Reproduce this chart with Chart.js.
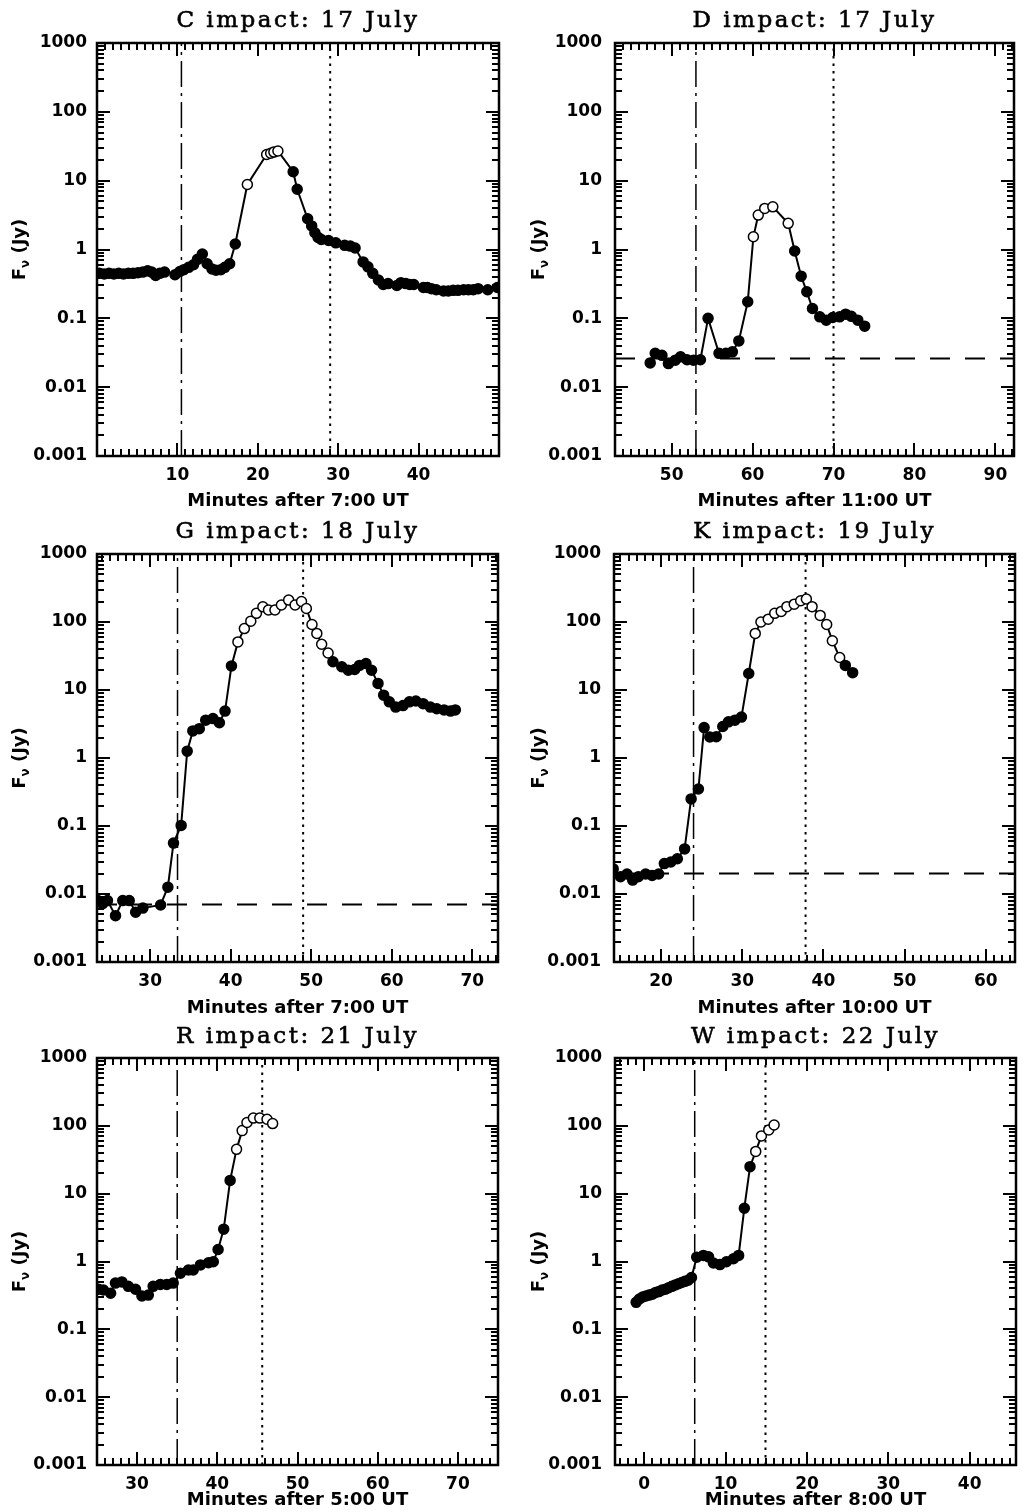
<!DOCTYPE html>
<html>
<head>
<meta charset="utf-8">
<title>Impact light curves</title>
<script src="https://cdn.jsdelivr.net/npm/chart.js@4.4.1/dist/chart.umd.min.js"></script>
<style>
  html, body { margin: 0; padding: 0; background: #fff; }
  body { width: 1023px; height: 1512px; position: relative; overflow: hidden; }
  canvas { position: absolute; }
</style>
</head>
<body>
<canvas id="chartC"></canvas>
<canvas id="chartD"></canvas>
<canvas id="chartG"></canvas>
<canvas id="chartK"></canvas>
<canvas id="chartR"></canvas>
<canvas id="chartW"></canvas>
<script>
// Flux axis (Jy), shared by all panels
const yTicks = [0.001, 0.01, 0.1, 1, 10, 100, 1000];
const yTickLabels = ['0.001', '0.01', '0.1', '1', '10', '100', '1000'];

// C impact, minutes after 7:00 UT
const cTime = [0.3, 0.9, 1.5, 2.1, 2.7, 3.3, 3.9, 4.5, 5.1, 5.7, 6.3, 6.8, 7.3, 7.8, 8.4, 9.7, 10.3, 10.8, 11.4, 12.0,
  12.5, 13.1, 13.7, 14.3, 14.8, 15.4, 15.9, 16.5, 17.2, 18.7, 21.1, 21.6, 22.0, 22.5, 24.4, 24.9, 26.2, 26.7, 27.1, 27.5,
  27.9, 28.8, 29.7, 30.8, 31.5, 32.1, 33.1, 33.7, 34.3, 35.0, 35.6, 36.2, 37.3, 37.8, 38.4, 38.9, 39.4, 40.6, 41.1, 41.6,
  42.2, 43.1, 43.7, 44.3, 44.9, 45.6, 46.2, 46.8, 47.4, 48.6, 49.8];
const cFlux = [0.45, 0.44, 0.45, 0.44, 0.45, 0.44, 0.45, 0.45, 0.46, 0.47, 0.49, 0.47, 0.42, 0.45, 0.47, 0.43, 0.48, 0.51, 0.55, 0.60,
  0.72, 0.86, 0.62, 0.52, 0.50, 0.51, 0.55, 0.62, 1.2, 8.8, 24, 25, 26, 27, 13.5, 7.5, 2.8, 2.2, 1.75, 1.5,
  1.4, 1.35, 1.25, 1.15, 1.12, 1.05, 0.66, 0.56, 0.45, 0.36, 0.31, 0.32, 0.30, 0.33, 0.32, 0.31, 0.31, 0.28, 0.28, 0.27,
  0.26, 0.25, 0.25, 0.255, 0.255, 0.26, 0.26, 0.26, 0.27, 0.26, 0.28];
const cOpen = [18.7, 21.1, 21.6, 22.0, 22.5];
const cMarks = [10.5, 29];
const cXTicks = [10, 20, 30, 40];

// D impact, minutes after 11:00 UT
const dTime = [47.35, 47.97, 48.8, 49.6, 50.45, 51.1, 51.9, 52.7, 53.55, 54.5, 55.85, 56.7, 57.5, 58.3, 59.4, 60.1,
  60.7, 61.5, 62.5, 64.4, 65.2, 66.0, 66.7, 67.4, 68.3, 69.1, 69.9, 70.75, 71.5, 72.2, 73.0, 73.85];
const dFlux = [0.0225, 0.031, 0.029, 0.022, 0.0247, 0.0276, 0.025, 0.0247, 0.025, 0.1, 0.031, 0.031, 0.0326, 0.047, 0.174, 1.53,
  3.16, 3.95, 4.17, 2.4, 0.95, 0.41, 0.243, 0.139, 0.105, 0.094, 0.103, 0.105, 0.115, 0.107, 0.094, 0.077];
const dOpen = [60.1, 60.7, 61.5, 62.5, 64.4];
const dMarks = [53, 70];
const dBase = 0.026;
const dXTicks = [50, 60, 70, 80, 90];

// G impact, minutes after 7:00 UT
const gTime = [23.5, 24.1, 24.7, 25.7, 26.6, 27.4, 28.2, 29.1, 31.3, 32.2, 32.9, 33.85, 34.6, 35.3, 36.1, 36.9, 37.8, 38.6,
  39.3, 40.1, 40.9, 41.7, 42.5, 43.2, 44.0, 44.7, 45.5, 46.3, 47.2, 48.0, 48.8, 49.4, 50.1, 50.7, 51.3, 52.1, 52.7, 53.8,
  54.6, 55.4, 56.0, 56.8, 57.5, 58.3, 59.0, 59.7, 60.5, 61.4, 62.2, 63.0, 63.9, 64.8, 65.6, 66.5, 67.3, 67.9];
const gFlux = [0.008, 0.0072, 0.008, 0.0048, 0.008, 0.008, 0.0054, 0.0062, 0.0069, 0.0126, 0.056, 0.102, 1.26, 2.5, 2.7, 3.6, 3.8, 3.3,
  4.9, 22.6, 51, 80, 103, 134, 167, 150, 150, 178, 210, 178, 200, 158, 92, 68, 47, 35, 26, 22,
  19.5, 20, 23, 24.5, 19.5, 12.5, 8.4, 6.7, 5.6, 5.9, 6.7, 6.9, 6.3, 5.6, 5.3, 5.1, 4.9, 5.1];
const gOpen = [40.9, 41.7, 42.5, 43.2, 44.0, 44.7, 45.5, 46.3, 47.2, 48.0, 48.8, 49.4, 50.1, 50.7, 51.3, 52.1];
const gMarks = [33.4, 49];
const gBase = 0.007;
const gXTicks = [30, 40, 50, 60, 70];

// K impact, minutes after 10:00 UT
const kTime = [14.1, 15.0, 15.8, 16.5, 17.2, 18.1, 18.9, 19.7, 20.4, 21.2, 22.0, 22.9, 23.7, 24.6, 25.3, 26.0, 26.8, 27.6,
  28.3, 29.1, 29.9, 30.8, 31.6, 32.3, 33.2, 34.0, 34.8, 35.5, 36.4, 37.2, 37.9, 38.6, 39.6, 40.4, 41.1, 42.0, 42.7, 43.6];
const kFlux = [0.0234, 0.018, 0.0197, 0.016, 0.018, 0.0197, 0.0187, 0.0197, 0.028, 0.0295, 0.033, 0.046, 0.25, 0.35, 2.8, 2.04, 2.06, 2.9,
  3.4, 3.6, 4.0, 17.5, 68, 100, 110, 134, 143, 168, 183, 205, 218, 168, 125, 92, 53, 30, 23, 18];
const kOpen = [31.6, 32.3, 33.2, 34.0, 34.8, 35.5, 36.4, 37.2, 37.9, 38.6, 39.6, 40.4, 41.1, 42.0];
const kMarks = [24, 37.8];
const kBase = 0.02;
const kXTicks = [20, 30, 40, 50, 60];

// R impact, minutes after 5:00 UT
const rTime = [25.2, 25.8, 26.7, 27.3, 28.1, 28.9, 29.8, 30.6, 31.4, 32.0, 32.9, 33.7, 34.5, 35.4, 36.4, 37.0, 37.9, 38.9,
  39.5, 40.1, 40.8, 41.6, 42.4, 43.1, 43.7, 44.5, 45.3, 46.2, 46.9];
const rFlux = [0.39, 0.38, 0.34, 0.48, 0.50, 0.43, 0.39, 0.31, 0.32, 0.43, 0.46, 0.46, 0.48, 0.67, 0.75, 0.75, 0.89, 0.96,
  0.99, 1.5, 3.0, 15.7, 45, 85, 112, 130, 130, 125, 108];
const rOpen = [42.4, 43.1, 43.7, 44.5, 45.3, 46.2, 46.9];
const rMarks = [35, 45.6];
const rXTicks = [30, 40, 50, 60, 70];

// W impact, minutes after 8:00 UT
const wTime = [-1.0, -0.6, -0.2, 0.2, 0.6, 1.0, 1.4, 1.8, 2.2, 2.6, 3.0, 3.4, 3.8, 4.2, 4.6, 5.0, 5.4, 5.8,
  6.45, 7.27, 7.9, 8.5, 9.3, 10.1, 10.96, 11.6, 12.3, 13.0, 13.7, 14.4, 15.3, 15.96];
const wFlux = [0.25, 0.28, 0.30, 0.31, 0.32, 0.33, 0.35, 0.36, 0.38, 0.39, 0.41, 0.43, 0.45, 0.47, 0.49, 0.51, 0.53, 0.58,
  1.16, 1.23, 1.17, 0.95, 0.90, 0.99, 1.1, 1.23, 6.1, 25, 42, 71, 87, 103];
const wOpen = [13.7, 14.4, 15.3, 15.96];
const wMarks = [6.2, 14.9];
const wXTicks = [0, 10, 20, 30, 40];

const panels = [
  { id: 'chartC', title: 'C impact: 17 July', xTitle: 'Minutes after 7:00 UT', time: cTime, flux: cFlux, open: cOpen,
    marks: cMarks, base: null, xTicks: cXTicks, xMin: 0, xMax: 50,
    canvas: [0, 0, 511, 510], box: [97, 43, 499, 456], titleY: 21, xTitleY: 501, yLabelX: 20, tickPad: 10 },
  { id: 'chartD', title: 'D impact: 17 July', xTitle: 'Minutes after 11:00 UT', time: dTime, flux: dFlux, open: dOpen,
    marks: dMarks, base: dBase, xTicks: dXTicks, xMin: 43, xMax: 92.3,
    canvas: [511, 0, 512, 510], box: [615, 43, 1014, 456], titleY: 21, xTitleY: 501, yLabelX: 539, tickPad: 13 },
  { id: 'chartG', title: 'G impact: 18 July', xTitle: 'Minutes after 7:00 UT', time: gTime, flux: gFlux, open: gOpen,
    marks: gMarks, base: gBase, xTicks: gXTicks, xMin: 23.4, xMax: 73.2,
    canvas: [0, 510, 511, 505], box: [97, 554, 498, 962], titleY: 532, xTitleY: 1008, yLabelX: 20, tickPad: 10 },
  { id: 'chartK', title: 'K impact: 19 July', xTitle: 'Minutes after 10:00 UT', time: kTime, flux: kFlux, open: kOpen,
    marks: kMarks, base: kBase, xTicks: kXTicks, xMin: 14.2, xMax: 63.6,
    canvas: [511, 510, 512, 505], box: [614, 554, 1015, 962], titleY: 532, xTitleY: 1008, yLabelX: 539, tickPad: 13 },
  { id: 'chartR', title: 'R impact: 21 July', xTitle: 'Minutes after 5:00 UT', time: rTime, flux: rFlux, open: rOpen,
    marks: rMarks, base: null, xTicks: rXTicks, xMin: 25, xMax: 75,
    canvas: [0, 1015, 511, 497], box: [97, 1058, 498, 1465], titleY: 1037, xTitleY: 1500, yLabelX: 20, tickPad: 10 },
  { id: 'chartW', title: 'W impact: 22 July', xTitle: 'Minutes after 8:00 UT', time: wTime, flux: wFlux, open: wOpen,
    marks: wMarks, base: null, xTicks: wXTicks, xMin: -3.6, xMax: 45.7,
    canvas: [511, 1015, 512, 497], box: [615, 1058, 1016, 1465], titleY: 1037, xTitleY: 1500, yLabelX: 539, tickPad: 13 }
];

const tickFont = { family: 'DejaVu Sans', weight: 'bold', size: 17 };

// frame, inward ticks on all sides, title and axis titles
const panelDecor = {
  id: 'panelDecor',
  afterDraw(chart, args, opts) {
    const ctx = chart.ctx;
    const area = chart.chartArea;
    const xs = chart.scales.x;
    const ys = chart.scales.y;
    ctx.save();
    ctx.setLineDash([]);
    ctx.fillStyle = '#000';
    ctx.strokeStyle = '#000';

    // minute ticks along top and bottom
    for (let m = Math.ceil(xs.min); m <= Math.floor(xs.max); m++) {
      const px = Math.round(xs.getPixelForValue(m));
      const len = m % 10 === 0 ? 13 : 7;
      ctx.fillRect(px - 1, area.bottom - len, 2, len);
      ctx.fillRect(px - 1, area.top, 2, len);
    }
    // decade and sub-decade ticks along left and right
    for (let d = -3; d <= 3; d++) {
      for (let k = 1; k <= 9; k++) {
        const v = k * Math.pow(10, d);
        if (v > 1000.01) break;
        const py = Math.round(ys.getPixelForValue(v));
        const len = k === 1 ? 13 : 7;
        ctx.fillRect(area.left, py - 1, len, 2);
        ctx.fillRect(area.right - len, py - 1, len, 2);
      }
    }

    ctx.lineWidth = 2.5;
    ctx.strokeRect(area.left, area.top, area.right - area.left, area.bottom - area.top);

    const cx = (area.left + area.right) / 2;
    ctx.textAlign = 'center';
    ctx.textBaseline = 'middle';
    ctx.letterSpacing = '2.5px';
    ctx.font = '23px "DejaVu Serif"';
    ctx.lineWidth = 0.6;
    ctx.fillText(opts.title, cx, opts.titleY);
    ctx.strokeText(opts.title, cx, opts.titleY);
    ctx.letterSpacing = '0px';
    ctx.font = 'bold 18px "DejaVu Sans"';
    ctx.fillText(opts.xTitle, cx, opts.xTitleY);

    // rotated flux label with a subscript nu
    ctx.translate(opts.yLabelX, (area.top + area.bottom) / 2);
    ctx.rotate(-Math.PI / 2);
    ctx.textAlign = 'left';
    const big = 'bold 18px "DejaVu Sans"';
    const small = 'bold 12px "DejaVu Sans"';
    ctx.font = big;
    const wF = ctx.measureText('F').width;
    const wRest = ctx.measureText(' (Jy)').width;
    ctx.font = small;
    const wNu = ctx.measureText('ν').width;
    let x = -(wF + wNu + wRest) / 2;
    ctx.font = big;
    ctx.fillText('F', x, 0);
    x += wF;
    ctx.font = small;
    ctx.fillText('ν', x, 6);
    x += wNu;
    ctx.font = big;
    ctx.fillText(' (Jy)', x, 0);
    ctx.restore();
  }
};

function vertical(t, dash, width) {
  return {
    data: [{ x: t, y: yTicks[0] }, { x: t, y: yTicks[yTicks.length - 1] }],
    borderColor: '#000', borderWidth: width, borderDash: dash, pointRadius: 0, order: 2
  };
}

function makePanel(p) {
  const el = document.getElementById(p.id);
  const [cl, ct, cw, ch] = p.canvas;
  el.width = cw;
  el.height = ch;
  el.style.left = cl + 'px';
  el.style.top = ct + 'px';

  const points = p.time.map((t, i) => ({ x: t, y: p.flux[i] }));
  const datasets = [{
    data: points,
    borderColor: '#000',
    borderWidth: 2,
    pointRadius: 5,
    pointBorderWidth: 1.5,
    pointBorderColor: '#000',
    pointBackgroundColor: p.time.map(t => p.open.includes(t) ? '#fff' : '#000'),
    order: 0
  },
  vertical(p.marks[0], [26, 6, 3, 6], 1.5),
  vertical(p.marks[1], [2.5, 5], 2)];
  if (p.base !== null) {
    datasets.push({
      data: [{ x: p.xMin, y: p.base }, { x: p.xMax, y: p.base }],
      borderColor: '#000', borderWidth: 2, borderDash: [20, 15], pointRadius: 0, order: 3
    });
  }

  const boxL = p.box[0] - cl, boxT = p.box[1] - ct, boxR = p.box[2] - cl, boxB = p.box[3] - ct;

  return new Chart(el, {
    type: 'line',
    data: { datasets: datasets },
    options: {
      responsive: false,
      animation: false,
      events: [],
      elements: { line: { tension: 0 } },
      layout: { padding: { left: 0, top: boxT, right: cw - boxR, bottom: 0 } },
      plugins: {
        legend: { display: false },
        tooltip: { enabled: false },
        panelDecor: { title: p.title, xTitle: p.xTitle, titleY: p.titleY - ct, xTitleY: p.xTitleY - ct, yLabelX: p.yLabelX - cl }
      },
      scales: {
        x: {
          type: 'linear',
          min: p.xMin,
          max: p.xMax,
          grid: { display: false, drawTicks: false },
          border: { display: false },
          afterBuildTicks: s => { s.ticks = p.xTicks.map(v => ({ value: v })); },
          afterFit: s => { s.height = ch - boxB; },
          ticks: { padding: 9, color: '#000', font: tickFont, autoSkip: false, maxRotation: 0,
            callback: v => String(v) }
        },
        y: {
          type: 'logarithmic',
          min: yTicks[0],
          max: yTicks[yTicks.length - 1],
          grid: { display: false, drawTicks: false },
          border: { display: false },
          afterBuildTicks: s => { s.ticks = yTicks.map(v => ({ value: v })); },
          afterFit: s => { s.width = boxL; },
          ticks: { padding: p.tickPad, color: '#000', font: tickFont, autoSkip: false,
            callback: v => yTickLabels[yTicks.indexOf(v)] }
        }
      }
    },
    plugins: [panelDecor]
  });
}

window.addEventListener('DOMContentLoaded', () => panels.forEach(makePanel));
</script>
</body>
</html>
